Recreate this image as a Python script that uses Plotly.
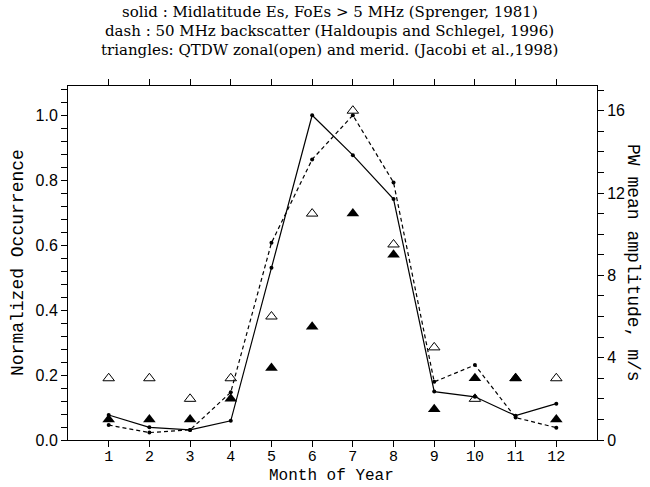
import plotly.graph_objects as go

months = list(range(1, 13))
sprenger = [0.077, 0.039, 0.031, 0.059, 0.53, 1.0, 0.877, 0.742, 0.149, 0.133, 0.075, 0.112]
haldoupis = [0.046, 0.023, 0.031, 0.147, 0.607, 0.864, 1.0, 0.793, 0.179, 0.231, 0.069, 0.038]
zonal = [3.0, 3.0, 2.0, 3.0, 6.0, 11.0, 16.0, 9.5, 4.5, 2.0, 3.0, 3.0]
merid = [1.0, 1.0, 1.0, 2.0, 3.5, 5.5, 11.0, 9.0, 1.5, 3.0, 3.0, 1.0]
title_lines = [
    "solid : Midlatitude Es, FoEs > 5 MHz (Sprenger, 1981)",
    "dash : 50 MHz backscatter (Haldoupis and Schlegel, 1996)",
    "triangles: QTDW zonal(open) and merid. (Jacobi et al.,1998)",
]

SERIF = "DejaVu Serif"
MONO = "Liberation Mono"
SANS = "Liberation Sans"
fig = go.Figure()
fig.add_trace(go.Scatter(x=months, y=sprenger, mode="lines+markers",
                         line=dict(color="black", width=1.2),
                         marker=dict(size=4, color="black"), showlegend=False))
fig.add_trace(go.Scatter(x=months, y=haldoupis, mode="lines+markers",
                         line=dict(color="black", width=1.2, dash="4px,3px"),
                         marker=dict(size=4, color="black"), showlegend=False))
fig.add_trace(go.Scatter(x=months, y=zonal, mode="markers", yaxis="y2",
                         marker=dict(symbol="triangle-up-open", size=10, color="black",
                                     line=dict(width=1)), showlegend=False))
fig.add_trace(go.Scatter(x=months, y=merid, mode="markers", yaxis="y2",
                         marker=dict(symbol="triangle-up", size=11, color="black"),
                         showlegend=False))

axcommon = dict(showgrid=False, zeroline=False, showline=True, linecolor="black",
                linewidth=1, ticks="outside", ticklen=6, tickcolor="black", automargin=False)

PH = 354
PW = 529
annotations = []
for i, line in enumerate(title_lines):
    annotations.append(dict(text=line, xref="paper", yref="paper", x=0.495,
                            y=1 + (86 - 12 - 19 * i) / PH, xanchor="center",
                            yanchor="middle", showarrow=False,
                            font=dict(family=SERIF, size=15, color="black")))
annotations.append(dict(text="PW mean amplitude, m/s", textangle=90, xref="paper", yref="paper",
                        x=1 + 36 / PW, y=0.5, xanchor="center", yanchor="middle",
                        showarrow=False, font=dict(family=MONO, size=18, color="black")))
annotations.append(dict(text="Normalized Occurrence", textangle=-90, xref="paper", yref="paper",
                        x=-(68 - 18) / PW, y=0.5, xanchor="center", yanchor="middle",
                        showarrow=False, font=dict(family=MONO, size=18, color="black")))
annotations.append(dict(text="Month of Year", xref="paper", yref="paper",
                        x=(331 - 68) / PW, y=-(487 - 440) / PH, xanchor="center",
                        yanchor="bottom", showarrow=False,
                        font=dict(family=MONO, size=16, color="black")))

fig.update_layout(
    width=650, height=487, margin=dict(l=68, r=53, t=86, b=47),
    paper_bgcolor="white", plot_bgcolor="white",
    font=dict(family=SANS, size=16, color="black"),
    xaxis=dict(range=[0, 13], tickvals=months, mirror="allticks",
               tickfont=dict(family=MONO, size=15, color="black"),
               ticklabelstandoff=-4,
               **axcommon),
    yaxis=dict(range=[0, 1.09], dtick=0.2, tickformat=".1f",
               tickfont=dict(family=SANS, size=16, color="black"),
               minor=dict(dtick=0.04, ticks="outside", ticklen=6, tickcolor="black"),
               **axcommon),
    yaxis2=dict(range=[0, 17.2], dtick=4, overlaying="y", side="right",
                tickfont=dict(family=SANS, size=16, color="black"),
                minor=dict(dtick=1, ticks="outside", ticklen=6, tickcolor="black"),
                **axcommon),
    annotations=annotations,
)
fig.write_html("out.html")
